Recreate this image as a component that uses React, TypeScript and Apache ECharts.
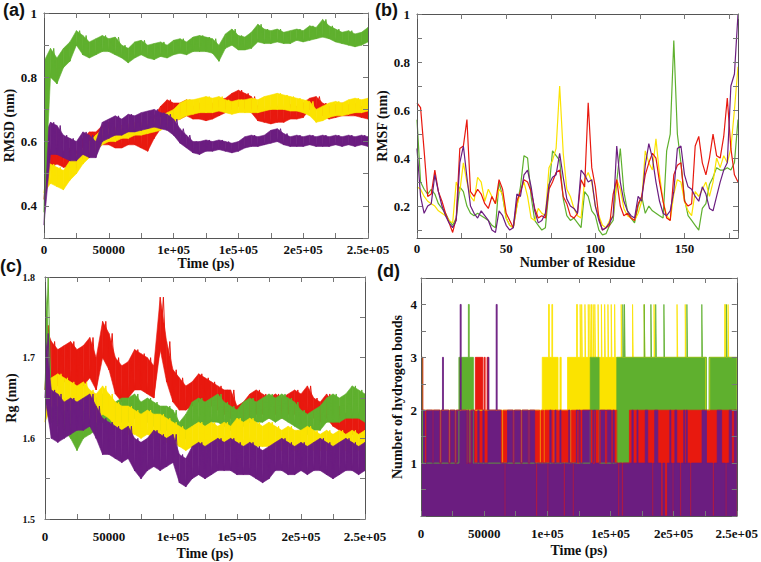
import { useEffect, useRef } from 'react';
import * as echarts from 'echarts';

const GREEN = '#5fb02e';
const RED = '#e8190f';
const YELLOW = '#fbe300';
const PURPLE = '#6b1d80';
const AXIS_COLOR = '#555';
const TICK_COLOR = '#777';
const SERIF = "'Liberation Serif', 'DejaVu Serif', serif";
const SANS = "'Liberation Sans', 'DejaVu Sans', sans-serif";

// sampling step of the RMSD / Rg traces (ps)
const TIME_STEP = 5000;
const timeTickValues = [0, 50000, 100000, 150000, 200000, 250000];
const timeTickLabels = ['0', '50000', '1e+05', '1e5+05', '2e5+05', '2.5e+05'];

// ---- (a) RMSD band (low / high envelope every 5000 ps) ----
const rmsdGreenLo = [0.38,0.80,0.78,0.83,0.85,0.90,0.87,0.86,0.87,0.88,0.88,0.87,0.86,0.845,0.86,0.87,0.86,0.855,0.865,0.86,0.87,0.875,0.87,0.88,0.88,0.88,0.875,0.85,0.89,0.90,0.885,0.885,0.89,0.91,0.905,0.905,0.91,0.905,0.905,0.915,0.91,0.915,0.92,0.925,0.92,0.91,0.905,0.90,0.895,0.90,0.91];
const rmsdGreenHi = [0.85,0.89,0.86,0.89,0.91,0.945,0.93,0.91,0.92,0.93,0.92,0.925,0.90,0.89,0.91,0.915,0.90,0.905,0.91,0.90,0.915,0.92,0.91,0.925,0.93,0.925,0.92,0.90,0.935,0.95,0.93,0.925,0.94,0.965,0.95,0.945,0.95,0.94,0.945,0.95,0.945,0.96,0.955,0.98,0.96,0.95,0.94,0.945,0.935,0.94,0.955];
const rmsdRedLo = [0.42,0.52,0.53,0.52,0.52,0.51,0.55,0.57,0.57,0.59,0.59,0.58,0.58,0.59,0.59,0.58,0.57,0.61,0.64,0.66,0.67,0.67,0.68,0.67,0.67,0.665,0.67,0.68,0.69,0.70,0.71,0.70,0.69,0.665,0.66,0.655,0.66,0.66,0.67,0.67,0.675,0.70,0.70,0.68,0.67,0.675,0.68,0.68,0.68,0.675,0.67];
const rmsdRedHi = [0.56,0.57,0.58,0.57,0.58,0.57,0.61,0.63,0.63,0.65,0.66,0.64,0.65,0.64,0.65,0.64,0.63,0.68,0.71,0.73,0.72,0.72,0.73,0.71,0.72,0.71,0.72,0.73,0.735,0.75,0.76,0.75,0.74,0.71,0.70,0.70,0.71,0.70,0.715,0.71,0.72,0.735,0.74,0.72,0.71,0.715,0.72,0.715,0.72,0.71,0.70];
const rmsdYellowLo = [0.44,0.47,0.46,0.45,0.48,0.50,0.53,0.55,0.57,0.59,0.60,0.60,0.61,0.61,0.62,0.62,0.625,0.63,0.635,0.65,0.66,0.67,0.68,0.685,0.69,0.69,0.69,0.695,0.69,0.685,0.69,0.69,0.69,0.69,0.695,0.70,0.70,0.70,0.695,0.695,0.69,0.68,0.66,0.665,0.675,0.68,0.68,0.685,0.69,0.69,0.695];
const rmsdYellowHi = [0.54,0.53,0.52,0.51,0.54,0.56,0.58,0.60,0.62,0.64,0.64,0.645,0.65,0.655,0.66,0.66,0.665,0.67,0.675,0.69,0.70,0.72,0.73,0.73,0.735,0.74,0.735,0.74,0.73,0.725,0.73,0.73,0.735,0.73,0.74,0.745,0.75,0.745,0.74,0.735,0.73,0.725,0.70,0.71,0.72,0.725,0.72,0.73,0.735,0.73,0.735];
const rmsdPurpleLo = [0.34,0.56,0.56,0.55,0.54,0.54,0.56,0.55,0.55,0.60,0.61,0.62,0.62,0.63,0.63,0.635,0.64,0.645,0.64,0.635,0.62,0.595,0.58,0.565,0.56,0.57,0.57,0.575,0.57,0.565,0.57,0.58,0.585,0.585,0.59,0.595,0.60,0.59,0.585,0.585,0.585,0.59,0.585,0.585,0.585,0.59,0.585,0.59,0.585,0.59,0.585];
const rmsdPurpleHi = [0.62,0.66,0.65,0.62,0.61,0.60,0.63,0.62,0.60,0.66,0.67,0.68,0.67,0.685,0.68,0.69,0.695,0.70,0.69,0.685,0.67,0.64,0.62,0.60,0.60,0.605,0.60,0.605,0.60,0.595,0.60,0.615,0.62,0.615,0.62,0.635,0.64,0.625,0.615,0.62,0.615,0.62,0.615,0.62,0.615,0.62,0.615,0.62,0.615,0.62,0.615];

// ---- (b) RMSF per residue (every 2nd residue, 0..180) ----
const residues = Array.from({ length: 91 }, (_, i) => i * 2);
const rmsfRed = [0.63,0.61,0.43,0.24,0.25,0.35,0.26,0.22,0.17,0.13,0.09,0.15,0.44,0.45,0.56,0.26,0.24,0.27,0.25,0.21,0.19,0.24,0.21,0.31,0.27,0.17,0.14,0.11,0.22,0.26,0.31,0.30,0.26,0.19,0.15,0.16,0.15,0.27,0.30,0.34,0.35,0.24,0.21,0.16,0.15,0.17,0.31,0.28,0.63,0.36,0.28,0.15,0.10,0.11,0.12,0.25,0.31,0.20,0.16,0.17,0.15,0.14,0.21,0.24,0.33,0.38,0.42,0.40,0.30,0.22,0.15,0.14,0.33,0.37,0.38,0.22,0.20,0.21,0.45,0.49,0.38,0.33,0.40,0.50,0.41,0.40,0.49,0.65,0.44,0.33,0.30];
const rmsfYellow = [0.28,0.27,0.24,0.22,0.21,0.20,0.18,0.17,0.16,0.14,0.13,0.30,0.26,0.38,0.30,0.24,0.22,0.32,0.30,0.22,0.27,0.24,0.21,0.27,0.25,0.15,0.12,0.11,0.20,0.26,0.30,0.24,0.15,0.14,0.19,0.17,0.16,0.36,0.39,0.44,0.70,0.42,0.27,0.24,0.19,0.16,0.15,0.31,0.34,0.30,0.20,0.16,0.12,0.11,0.14,0.16,0.31,0.27,0.19,0.16,0.15,0.14,0.17,0.22,0.43,0.38,0.35,0.48,0.33,0.22,0.16,0.14,0.25,0.31,0.30,0.22,0.18,0.16,0.26,0.24,0.27,0.30,0.24,0.30,0.40,0.36,0.41,0.38,0.44,0.60,0.78];
const rmsfGreen = [0.56,0.30,0.27,0.25,0.27,0.25,0.21,0.19,0.17,0.14,0.12,0.15,0.28,0.26,0.20,0.17,0.16,0.17,0.16,0.15,0.14,0.12,0.11,0.30,0.24,0.15,0.12,0.11,0.20,0.28,0.41,0.40,0.24,0.14,0.12,0.10,0.11,0.27,0.43,0.41,0.39,0.23,0.16,0.14,0.15,0.13,0.11,0.26,0.24,0.18,0.16,0.10,0.08,0.085,0.12,0.14,0.30,0.44,0.26,0.18,0.15,0.13,0.20,0.24,0.17,0.20,0.18,0.17,0.16,0.15,0.43,0.50,0.89,0.50,0.38,0.23,0.16,0.14,0.12,0.10,0.19,0.21,0.29,0.32,0.36,0.35,0.35,0.36,0.35,0.38,0.56];
const rmsfPurple = [0.44,0.24,0.17,0.20,0.21,0.33,0.26,0.20,0.16,0.13,0.11,0.14,0.38,0.45,0.32,0.20,0.17,0.15,0.18,0.16,0.14,0.10,0.09,0.18,0.16,0.12,0.10,0.11,0.25,0.24,0.33,0.35,0.28,0.18,0.13,0.14,0.17,0.29,0.32,0.33,0.42,0.32,0.23,0.20,0.19,0.17,0.35,0.33,0.30,0.31,0.20,0.14,0.10,0.11,0.13,0.16,0.45,0.30,0.22,0.18,0.16,0.15,0.24,0.22,0.37,0.46,0.40,0.30,0.22,0.17,0.16,0.18,0.26,0.44,0.45,0.33,0.28,0.27,0.24,0.22,0.28,0.25,0.19,0.18,0.24,0.30,0.35,0.38,0.70,0.75,1.0];
const rmsfTicks = [0.1,0.2,0.3,0.4,0.5,0.6,0.7,0.8,0.9,1.0];
const rmsfLabels = [0.2,0.4,0.6,0.8,1.0];

// ---- (c) Rg band (low / high envelope every 5000 ps) ----
const rgRedLo = [1.66,1.67,1.665,1.67,1.67,1.665,1.665,1.675,1.66,1.70,1.685,1.655,1.645,1.65,1.66,1.66,1.655,1.65,1.71,1.67,1.645,1.635,1.635,1.64,1.645,1.645,1.64,1.635,1.63,1.625,1.615,1.62,1.625,1.63,1.63,1.625,1.63,1.625,1.63,1.63,1.625,1.63,1.625,1.62,1.625,1.615,1.61,1.605,1.605,1.605,1.60];
const rgRedHi = [1.74,1.72,1.71,1.715,1.72,1.71,1.715,1.725,1.70,1.745,1.73,1.70,1.69,1.695,1.71,1.705,1.70,1.69,1.775,1.72,1.685,1.675,1.665,1.67,1.68,1.675,1.67,1.665,1.66,1.66,1.64,1.645,1.655,1.66,1.655,1.65,1.655,1.65,1.655,1.66,1.655,1.665,1.65,1.645,1.655,1.645,1.64,1.63,1.625,1.63,1.625];
const rgGreenLo = [1.66,1.62,1.615,1.61,1.60,1.585,1.60,1.605,1.61,1.62,1.62,1.615,1.62,1.62,1.625,1.615,1.62,1.615,1.61,1.61,1.61,1.59,1.60,1.615,1.62,1.615,1.62,1.62,1.615,1.61,1.61,1.615,1.62,1.62,1.62,1.625,1.62,1.625,1.62,1.615,1.61,1.605,1.61,1.61,1.62,1.62,1.62,1.625,1.625,1.625,1.62];
const rgGreenHi = [1.80,1.66,1.655,1.65,1.64,1.63,1.64,1.645,1.65,1.655,1.65,1.645,1.65,1.65,1.655,1.645,1.65,1.645,1.64,1.64,1.635,1.62,1.63,1.645,1.65,1.645,1.65,1.655,1.645,1.64,1.635,1.645,1.65,1.645,1.65,1.655,1.65,1.655,1.65,1.645,1.635,1.63,1.635,1.64,1.65,1.655,1.65,1.655,1.665,1.66,1.655];
const rgYellowLo = [1.62,1.64,1.64,1.635,1.635,1.63,1.635,1.625,1.62,1.63,1.625,1.615,1.61,1.605,1.605,1.60,1.605,1.60,1.60,1.595,1.595,1.59,1.585,1.59,1.59,1.59,1.595,1.59,1.595,1.59,1.595,1.59,1.595,1.59,1.59,1.59,1.59,1.585,1.59,1.585,1.585,1.59,1.585,1.585,1.585,1.585,1.59,1.585,1.59,1.585,1.59];
const rgYellowHi = [1.67,1.675,1.68,1.675,1.67,1.665,1.67,1.66,1.655,1.665,1.655,1.645,1.64,1.64,1.635,1.63,1.635,1.63,1.63,1.625,1.62,1.615,1.61,1.615,1.62,1.615,1.62,1.615,1.62,1.615,1.625,1.62,1.625,1.62,1.615,1.62,1.615,1.61,1.615,1.61,1.61,1.615,1.61,1.605,1.61,1.605,1.61,1.605,1.61,1.605,1.61];
const rgPurpleLo = [1.65,1.60,1.595,1.60,1.605,1.61,1.61,1.615,1.60,1.58,1.58,1.575,1.57,1.575,1.56,1.55,1.56,1.565,1.56,1.565,1.57,1.545,1.54,1.55,1.555,1.55,1.555,1.56,1.56,1.56,1.555,1.555,1.555,1.55,1.545,1.55,1.56,1.56,1.555,1.555,1.56,1.555,1.56,1.56,1.555,1.55,1.555,1.56,1.56,1.555,1.56];
const rgPurpleHi = [1.73,1.66,1.655,1.645,1.65,1.645,1.65,1.655,1.64,1.625,1.62,1.615,1.61,1.615,1.60,1.595,1.60,1.61,1.605,1.60,1.605,1.58,1.575,1.59,1.595,1.59,1.595,1.60,1.595,1.60,1.595,1.59,1.595,1.59,1.585,1.59,1.595,1.60,1.595,1.59,1.595,1.59,1.595,1.60,1.595,1.59,1.595,1.60,1.595,1.59,1.595];

// ---- (d) number of hydrogen bonds: [time (ps), count] at each change ----
const hbYellow = [[0,2],[96000,3],[101000,4],[101600,3],[103600,4],[104200,3],[108500,2],[110000,3],[111000,2],[116000,3],[123200,4],[123800,3],[126000,4],[126500,3],[127200,4],[127700,3],[129800,4],[130300,3],[132400,4],[132900,3],[133700,4],[134200,3],[135000,4],[135500,3],[136300,4],[136800,3],[137600,4],[138100,3],[140200,4],[140700,3],[142800,4],[143300,3],[145400,4],[145900,3],[148000,4],[148500,3],[150600,4],[151100,3],[153300,4],[153800,3],[158500,4],[159000,3],[167500,4],[168000,3],[176700,4],[177200,3],[184500,4],[185000,3],[202700,4],[203200,3],[209200,4],[209700,3],[225500,2],[228500,3],[240400,4],[241000,3],[243100,4],[243600,3],[250000,3]];
const hbGreen = [[0,3],[1200,1],[30000,3],[37500,4],[38200,3],[41500,1],[134000,3],[141000,1],[155000,3],[159800,4],[160300,3],[161100,4],[161600,3],[176700,4],[177200,3],[182000,4],[182500,3],[185800,4],[186300,3],[192300,4],[192800,3],[210500,4],[211000,3],[222300,4],[222800,3],[226000,2],[228000,3],[241800,4],[242300,3],[250000,3]];
const hbRed = [[0,3],[1500,2],[15000,1],[16000,2],[22000,1],[23000,2],[27000,1],[28000,2],[36000,1],[37000,2],[38000,1],[39500,2],[43000,3],[49000,2],[50000,3],[50800,2],[52300,3],[53000,2],[64000,1],[65000,2],[73000,1],[74000,2],[79000,1],[80000,2],[85000,1],[86000,2],[94000,1],[95000,2],[97000,1],[98000,2],[105000,1],[105800,2],[118000,1],[119000,2],[124000,1],[125000,2],[136000,1],[137500,2],[141000,1],[142000,2],[146000,1],[147000,2],[155000,1],[165000,2],[250000,2]];
const hbPurple = [[0,2],[3000,1],[4500,2],[9000,1],[10000,2],[15000,1],[16000,2],[17000,3],[17800,2],[22000,1],[23000,2],[27000,1],[28000,2],[31000,4],[31800,2],[36000,1],[37000,2],[38000,1],[39500,2],[42000,1],[45000,2],[46000,1],[49000,2],[50000,1],[53000,3],[53800,2],[59500,4],[60300,2],[63000,1],[66000,0],[67000,1],[68500,2],[73000,1],[74000,2],[79000,1],[80000,2],[85000,1],[86000,2],[90000,1],[91000,0],[92000,1],[100000,0],[101000,1],[102000,2],[103000,1],[106000,2],[106800,1],[110000,2],[110800,1],[113000,0],[114000,1],[117000,2],[117800,1],[120000,0],[121000,1],[123000,2],[126000,1],[128000,2],[134000,1],[136000,2],[138000,1],[141500,2],[150500,1],[152000,2],[153000,1],[156000,0],[157000,1],[159000,0],[160000,1],[167000,2],[168000,1],[171000,2],[171800,1],[177500,2],[179500,1],[183000,0],[184000,1],[185000,2],[187500,1],[190000,0],[191500,1],[193000,0],[195000,1],[197000,2],[197800,1],[199000,0],[200000,1],[201000,2],[202500,1],[205000,0],[206000,1],[208000,2],[208800,1],[210000,2],[210800,1],[213000,0],[214000,1],[222500,2],[226000,1],[231000,0],[232000,1],[234500,2],[238000,1],[241000,0],[242000,1],[244000,2],[246000,1],[248000,2],[250000,2]];

function zigzag(lo: number[], hi: number[]) {
  const pts: number[][] = [];
  lo.forEach((l, i) => {
    const t = i * TIME_STEP;
    pts.push([t, l]);
    pts.push([Math.min(t + TIME_STEP / 2, 250000), hi[i]]);
  });
  return pts;
}

const labelStyle = { fontFamily: SERIF, fontWeight: 'bold' as const, fontSize: 13, color: '#111' };
const nameStyle = { fontFamily: SERIF, fontWeight: 'bold' as const, fontSize: 14, color: '#111' };
const tickStyle = { show: true, inside: true, length: 5, lineStyle: { color: TICK_COLOR } };
const lineStyleAxis = { show: true, onZero: false, lineStyle: { color: AXIS_COLOR, width: 1 } };

function timeFormatter(v: number) {
  const k = timeTickValues.indexOf(v);
  return k >= 0 ? timeTickLabels[k] : '';
}

function xPair(gridIndex: number, base: any) {
  return [
    { type: 'value', gridIndex, position: 'bottom', axisLine: lineStyleAxis, axisTick: tickStyle, splitLine: { show: false }, z: 20, ...base },
    { type: 'value', gridIndex, position: 'top', min: base.min, max: base.max, interval: base.interval, axisLine: lineStyleAxis, axisTick: tickStyle, axisLabel: { show: false }, splitLine: { show: false }, z: 20 },
  ];
}
function yPair(gridIndex: number, base: any, rightTick?: any) {
  return [
    { type: 'value', gridIndex, position: 'left', axisLine: lineStyleAxis, axisTick: tickStyle, splitLine: { show: false }, z: 20, ...base },
    { type: 'value', gridIndex, position: 'right', min: base.min, max: base.max, interval: base.interval, axisLine: lineStyleAxis, axisTick: rightTick || tickStyle, axisLabel: { show: false }, splitLine: { show: false }, z: 20 },
  ];
}

// a noisy trace: filled band between its low and high envelope (custom series), with a jagged stroke on top
function bandSeries(axis: number, layer: number, color: string, lo: number[], hi: number[]) {
  const rows = lo.map((l, i) => [i * TIME_STEP, l, hi[i]]);
  const band = {
    type: 'custom', xAxisIndex: axis, yAxisIndex: axis, silent: true, clip: true, z: 2 + layer * 2,
    data: rows,
    encode: { x: 0, y: [1, 2] },
    renderItem: (params: any, api: any) => {
      const i = params.dataIndex;
      if (i >= rows.length - 1) return null;
      const a = rows[i];
      const b = rows[i + 1];
      const pts = [api.coord([a[0], a[1]]), api.coord([a[0], a[2]]), api.coord([b[0], b[2]]), api.coord([b[0], b[1]])];
      return { type: 'polygon', shape: { points: pts }, style: { fill: color, stroke: color, lineWidth: 0.6 } };
    },
  };
  const zig = { type: 'line', xAxisIndex: axis, yAxisIndex: axis, z: 3 + layer * 2, data: zigzag(lo, hi), symbol: 'none', showSymbol: false, silent: true, lineStyle: { color, width: 1 }, itemStyle: { color } };
  return [band, zig];
}
function rmsfSeries(color: string, vals: number[]) {
  return { type: 'line', xAxisIndex: 2, yAxisIndex: 2, data: residues.map((r, i) => [r, vals[i]]), symbol: 'none', showSymbol: false, silent: true, lineStyle: { color, width: 1.2 }, itemStyle: { color } };
}
function hbSeries(color: string, pts: number[][]) {
  return { type: 'line', xAxisIndex: 6, yAxisIndex: 6, step: 'end', data: pts, symbol: 'none', showSymbol: false, silent: true, lineStyle: { color, width: 0.8 }, itemStyle: { color }, areaStyle: { color, opacity: 1 } };
}

export default function App() {
  const ref = useRef<HTMLDivElement>(null);
  useEffect(() => {
    if (!ref.current) return;
    const chart = echarts.init(ref.current, null, { renderer: 'svg' });
    const option: any = {
      animation: false,
      backgroundColor: '#ffffff',
      grid: [
        { left: 44, top: 13, width: 324, height: 225 },
        { left: 417, top: 14, width: 321, height: 224 },
        { left: 45, top: 277, width: 320, height: 242 },
        { left: 421, top: 278, width: 320, height: 238 },
      ],
      xAxis: [
        ...xPair(0, { min: 0, max: 250000, interval: 25000, name: 'Time (ps)', nameLocation: 'middle', nameGap: 18, nameTextStyle: nameStyle, axisLabel: { ...labelStyle, margin: 5, showMinLabel: true, showMaxLabel: true, formatter: timeFormatter } }),
        ...xPair(1, { min: 0, max: 180, interval: 25, name: 'Number of Residue', nameLocation: 'middle', nameGap: 15, nameTextStyle: nameStyle, axisLabel: { ...labelStyle, margin: 4, formatter: (v: number) => (v % 50 === 0 ? String(v) : '') } }),
        ...xPair(2, { min: 0, max: 250000, interval: 25000, name: 'Time (ps)', nameLocation: 'middle', nameGap: 27, nameTextStyle: nameStyle, axisLabel: { ...labelStyle, margin: 11, showMinLabel: true, showMaxLabel: true, formatter: timeFormatter } }),
        ...xPair(3, { min: 0, max: 250000, interval: 25000, name: 'Time (ps)', nameLocation: 'middle', nameGap: 27, nameTextStyle: nameStyle, axisLabel: { ...labelStyle, margin: 11, showMinLabel: true, showMaxLabel: true, formatter: timeFormatter } }),
      ],
      yAxis: [
        ...yPair(0, { min: 0.3, max: 1.0, interval: 0.1, name: 'RMSD (nm)', nameLocation: 'middle', nameGap: 24, nameTextStyle: nameStyle, axisLabel: { ...labelStyle, margin: 7, formatter: (v: number) => { const r = Math.round(v * 10); return r % 2 === 0 && r >= 4 ? (r === 10 ? '1' : (r / 10).toFixed(1)) : ''; } } }),
        ...yPair(1, { min: 0.067, max: 1.0, name: 'RMSF (nm)', nameLocation: 'middle', nameGap: 22, nameTextStyle: nameStyle, axisTick: { ...tickStyle, customValues: rmsfTicks }, axisLabel: { ...labelStyle, margin: 7, customValues: rmsfLabels, formatter: (v: number) => (Math.abs(v - 1) < 1e-6 ? '1' : v.toFixed(1)) } }, { ...tickStyle, customValues: rmsfTicks }),
        ...yPair(2, { min: 1.5, max: 1.8, interval: 0.05, name: 'Rg (nm)', nameLocation: 'middle', nameGap: 22, nameTextStyle: nameStyle, axisLabel: { ...labelStyle, fontSize: 10, margin: 10, formatter: (v: number) => { const r = Math.round(v * 100); return r % 10 === 0 ? (r / 100).toFixed(1) : ''; } } }),
        ...yPair(3, { min: 0, max: 4.5, interval: 0.5, name: 'Number of hydrogen bonds', nameLocation: 'middle', nameGap: 17, nameTextStyle: nameStyle, axisLabel: { ...labelStyle, margin: 4, formatter: (v: number) => (Number.isInteger(v) && v >= 1 ? String(v) : '') } }),
      ],
      graphic: [
        { type: 'text', left: 3, top: 1, style: { text: '(a)', fontFamily: SANS, fontWeight: 'bold', fontSize: 18, fill: '#111' } },
        { type: 'text', left: 375, top: 1, style: { text: '(b)', fontFamily: SANS, fontWeight: 'bold', fontSize: 18, fill: '#111' } },
        { type: 'text', left: 0, top: 257, style: { text: '(c)', fontFamily: SANS, fontWeight: 'bold', fontSize: 18, fill: '#111' } },
        { type: 'text', left: 377, top: 262, style: { text: '(d)', fontFamily: SANS, fontWeight: 'bold', fontSize: 18, fill: '#111' } },
      ],
      series: [
        ...bandSeries(0, 0, RED, rmsdRedLo, rmsdRedHi),
        ...bandSeries(0, 1, YELLOW, rmsdYellowLo, rmsdYellowHi),
        ...bandSeries(0, 2, PURPLE, rmsdPurpleLo, rmsdPurpleHi),
        ...bandSeries(0, 3, GREEN, rmsdGreenLo, rmsdGreenHi),
        rmsfSeries(GREEN, rmsfGreen),
        rmsfSeries(YELLOW, rmsfYellow),
        rmsfSeries(RED, rmsfRed),
        rmsfSeries(PURPLE, rmsfPurple),
        ...bandSeries(4, 0, RED, rgRedLo, rgRedHi),
        ...bandSeries(4, 1, GREEN, rgGreenLo, rgGreenHi),
        ...bandSeries(4, 2, YELLOW, rgYellowLo, rgYellowHi),
        ...bandSeries(4, 3, PURPLE, rgPurpleLo, rgPurpleHi),
        hbSeries(YELLOW, hbYellow),
        hbSeries(GREEN, hbGreen),
        hbSeries(RED, hbRed),
        hbSeries(PURPLE, hbPurple),
      ],
    };
    chart.setOption(option);
    return () => chart.dispose();
  }, []);
  return <div ref={ref} style={{ position: 'fixed', left: 0, top: 0, width: 761, height: 562, background: '#fff' }} />;
}
